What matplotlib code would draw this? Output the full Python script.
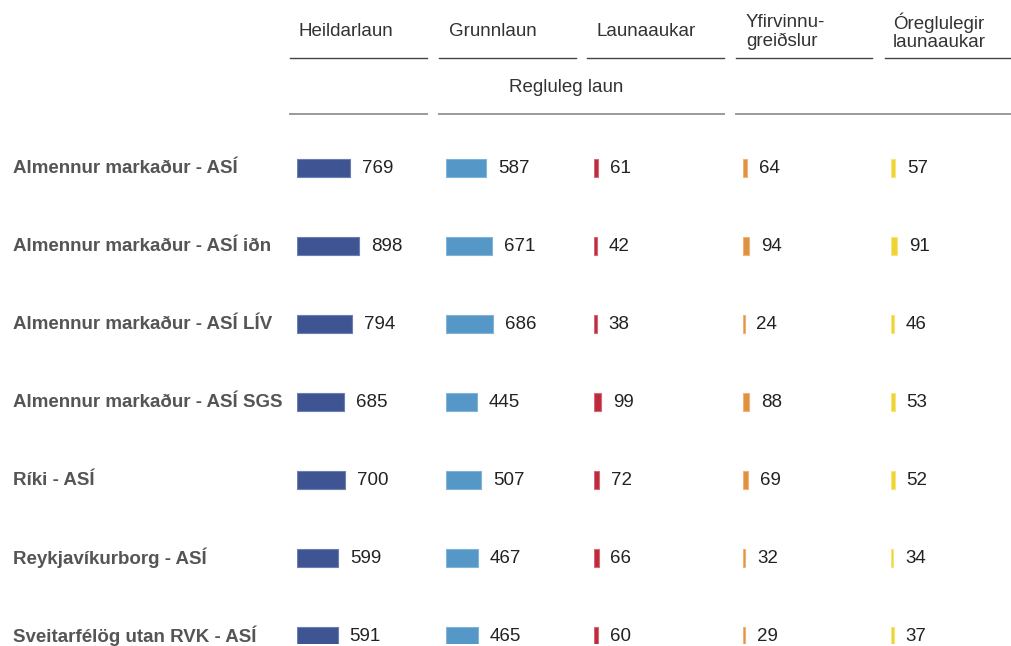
import matplotlib.pyplot as plt
import matplotlib.transforms as mtransforms
from matplotlib.lines import Line2D

plt.rcParams['font.family'] = ['Liberation Sans', 'DejaVu Sans']

categories = [
    "Almennur markaður - ASÍ",
    "Almennur markaður - ASÍ iðn",
    "Almennur markaður - ASÍ LÍV",
    "Almennur markaður - ASÍ SGS",
    "Ríki - ASÍ",
    "Reykjavíkurborg - ASÍ",
    "Sveitarfélög utan RVK - ASÍ",
]
heildarlaun = [769, 898, 794, 685, 700, 599, 591]
grunnlaun = [587, 671, 686, 445, 507, 467, 465]
launaaukar = [61, 42, 38, 99, 72, 66, 60]
yfirvinna = [64, 94, 24, 88, 69, 32, 29]
oreglulegir = [57, 91, 46, 53, 52, 34, 37]

headers = ["Heildarlaun", "Grunnlaun", "Launaaukar",
           "Yfirvinnu-\ngreiðslur", "Óreglulegir\nlaunaaukar"]
group_label = "Regluleg laun"

series = [heildarlaun, grunnlaun, launaaukar, yfirvinna, oreglulegir]
colors = ["#3f5593", "#5597c6", "#bd2a3c", "#e0903f", "#efd431"]
edges = ["#6c7fb0", "#82b4d8", "#d46a77", "#eeb57a", "#f6e57c"]

W, H = 1011, 646
fig = plt.figure(figsize=(W / 100, H / 100), dpi=100)

col_left = [297, 446, 594, 743, 891]
col_w = 115
px_per_unit = 0.0689
ax_top = 129
ax_bot = 644

axes = []
for k, vals in enumerate(series):
    ax = fig.add_axes([col_left[k] / W, 1 - ax_bot / H, col_w / W, (ax_bot - ax_top) / H])
    ax.barh(range(len(categories)), vals, height=0.23, color=colors[k],
            edgecolor=edges[k], linewidth=0.8)
    for i, v in enumerate(vals):
        ax.annotate(str(v), (v, i), xytext=(8.5, 0), textcoords='offset points',
                    va='center', ha='left', fontsize=13.5, color='#222222')
    ax.set_xlim(0, col_w / px_per_unit)
    ax.set_ylim(len(categories) - 1 + 0.1, -0.5)
    ax.axis('off')
    axes.append(ax)

# category labels
trans = mtransforms.blended_transform_factory(fig.transFigure, axes[0].transData)
for i, name in enumerate(categories):
    fig.text(13 / W, i, name, transform=trans, ha='left', va='center',
             fontsize=13.5, fontweight='bold', color='#555555')

# header texts
head_x = [299, 449, 597, 746, 893]
for k, h in enumerate(headers):
    fig.text(head_x[k] / W, 1 - 32 / H, h, ha='left', va='center',
             fontsize=13.5, color='#333333', linespacing=1.1)

# header rules
rule_spans = [(290, 427), (439, 576), (587, 724), (736, 872), (885, 1011)]
for x0, x1 in rule_spans:
    fig.add_artist(Line2D([x0 / W, x1 / W], [1 - 58 / H] * 2, color='#444444', lw=1.0))

group_spans = [(290, 427), (439, 724), (736, 1011)]
for x0, x1 in group_spans:
    fig.add_artist(Line2D([x0 / W, x1 / W], [1 - 114 / H] * 2, color='#9a9a9a', lw=1.4))
fig.text(566 / W, 1 - 88 / H, group_label, ha='center', va='center',
         fontsize=13.5, color='#333333')

fig.savefig("out.png", dpi=100)
